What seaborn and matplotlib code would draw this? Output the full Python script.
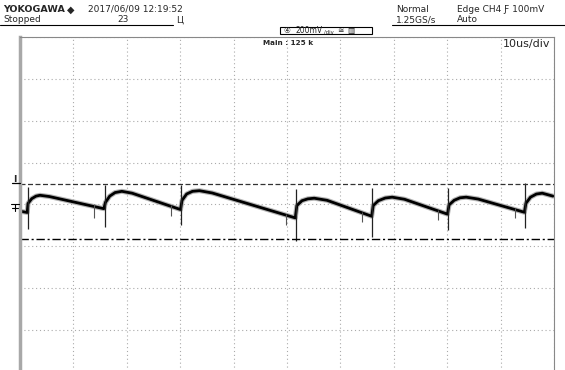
import numpy as np
import pandas as pd
import matplotlib
matplotlib.use("Agg")
import matplotlib.pyplot as plt
import seaborn as sns
from matplotlib.lines import Line2D
from matplotlib.patches import Rectangle

# Trace: time in us (10 us/div), level in mV (200 mV/div)
trace_t = [0.0, 1.35,
           1.5, 2.2, 3.0, 3.74, 5.5, 15.7,
           16.0, 16.8, 17.8, 19.07, 21.0, 30.05,
           30.35, 31.2, 32.3, 33.6, 36.0, 51.55,
           51.85, 52.8, 53.9, 55.1, 57.5, 65.85,
           66.15, 67.1, 68.4, 69.7, 72.0, 80.05,
           80.35, 81.3, 82.4, 83.55, 85.8, 94.45,
           94.75, 95.6, 96.7, 97.8, 99.8]
trace_mv = [-32, -38,
            5, 28, 40, 44, 38, -20,
            10, 40, 57, 63, 54, -24,
            20, 50, 63, 66, 55, -64,
            -5, 18, 27, 30, 20, -56,
            -5, 18, 31, 35, 25, -46,
            -2, 20, 32, 35, 26, -37,
            6, 35, 50, 54, 40]

# switching edges: fast spikes
edge_t = [1.44, 15.85, 30.2, 51.7, 66.0, 80.2, 94.6]
edge_hi = [84, 92, 92, 73, 78, 78, 101]
edge_lo = [-118, -108, -97, -172, -156, -122, -113]

# small glitches just before each edge
glitch_t = [13.8, 28.2, 49.9, 64.1, 78.3, 92.7]
glitch_hi = [0, -2, -45, -35, -25, -18]
glitch_lo = [-65, -56, -99, -84, -75, -65]

trig_level = 100
cursor_level = -167

W, H = 565, 370


def fx(px):
    return px / W


def fy(py):
    return 1 - py / H


sns.set_style("white")
plt.rcParams["font.family"] = ["Liberation Sans Narrow", "DejaVu Sans"]

fig = plt.figure(figsize=(5.65, 3.70), dpi=100)
ax = fig.add_axes([fx(20), fy(372), (554 - 20) / W, (372 - 37) / H])

df = pd.DataFrame({"t": trace_t, "mv": trace_mv})
sns.lineplot(data=df, x="t", y="mv", ax=ax, sort=False, estimator=None,
             color="#b4b4b4", lw=3.6)
sns.lineplot(data=df, x="t", y="mv", ax=ax, sort=False, estimator=None,
             color="black", lw=2.0)
ax.vlines(edge_t, edge_lo, edge_hi, color="#222222", lw=0.9)
ax.vlines(glitch_t, glitch_lo, glitch_hi, color="#555555", lw=0.8)

ax.axhline(trig_level, color="#333333", lw=0.9, ls=(0, (4, 2)))
ax.axhline(cursor_level, color="black", lw=1.0, ls=(0, (6, 2, 1.5, 2)))

ax.set_xlim(0, 100)
ax.set_ylim(-800, 800)
ax.set_xticks(np.arange(0, 101, 10))
ax.set_yticks(np.arange(-800, 801, 200))
ax.grid(True, color="#aaaaaa", lw=0.8, ls=(0, (1, 2.5)))
ax.tick_params(length=0, labelbottom=False, labelleft=False)
ax.set_xlabel("")
ax.set_ylabel("")
ax.spines["left"].set_color("#a8a8a8")
ax.spines["left"].set_linewidth(2.5)
for s in ["top", "right"]:
    ax.spines[s].set_color("#888888")
    ax.spines[s].set_linewidth(0.8)
ax.spines["bottom"].set_visible(False)

# header
fig.text(fx(3), fy(10), "YOKOGAWA", fontsize=6.8, weight="bold", va="center")
fig.text(fx(67), fy(10), "\u25C6", fontsize=7, va="center", family=["DejaVu Sans"])
fig.text(fx(88), fy(9.5), "2017/06/09 12:19:52", fontsize=6.5, va="center")
fig.text(fx(3), fy(20), "Stopped", fontsize=6.5, va="center")
fig.text(fx(117), fy(20), "23", fontsize=6.5, va="center")
fig.text(fx(176), fy(20.5), "\u0426", fontsize=6.5, va="center")
fig.text(fx(396), fy(9.5), "Normal", fontsize=6.5, va="center")
fig.text(fx(396), fy(20), "1.25GS/s", fontsize=6.5, va="center")
fig.text(fx(457), fy(9.5), "Edge CH4 \u0191 100mV", fontsize=6.5, va="center")
fig.text(fx(457), fy(20), "Auto", fontsize=6.5, va="center")
fig.add_artist(Line2D([fx(0), fx(173)], [fy(25), fy(25)], color="black", lw=0.8))
fig.add_artist(Line2D([fx(392), fx(565)], [fy(25), fy(25)], color="black", lw=0.8))

# channel box
fig.add_artist(Rectangle((fx(280), fy(34)), (372 - 280) / W, 6.5 / H,
                         transform=fig.transFigure, fill=False, lw=0.8, ec="black"))
fig.text(fx(283), fy(30.8), "\u2463", fontsize=5.5, va="center",
         family=["DejaVu Sans"])
fig.text(fx(295), fy(30.8), "200mV", fontsize=5.5, va="center")
fig.text(fx(324), fy(32), "/div", fontsize=3.8, va="center")
fig.text(fx(337), fy(30.5), "\u2245", fontsize=5.5, va="center", family=["DejaVu Sans"])
fig.text(fx(347), fy(30.8), "\u25A5", fontsize=5.5, va="center", family=["DejaVu Sans"])

fig.text(fx(263), fy(43), "Main : 125 k", fontsize=5.2, weight="bold", va="center")
fig.text(fx(550), fy(43.5), "10us/div", fontsize=8, va="center", ha="right")

# left side markers
fig.text(fx(13), fy(180), "I", fontsize=6.5, va="center", weight="bold")
fig.add_artist(Line2D([fx(12), fx(20)], [fy(183), fy(183)], color="black", lw=0.9))
fig.add_artist(Line2D([fx(11), fx(19)], [fy(204), fy(204)], color="black", lw=0.8))
fig.add_artist(Line2D([fx(15), fx(15)], [fy(204), fy(211)], color="black", lw=0.8))
fig.add_artist(Line2D([fx(12), fx(18)], [fy(208), fy(208)], color="black", lw=0.8))

fig.savefig("out.png", dpi=100)
